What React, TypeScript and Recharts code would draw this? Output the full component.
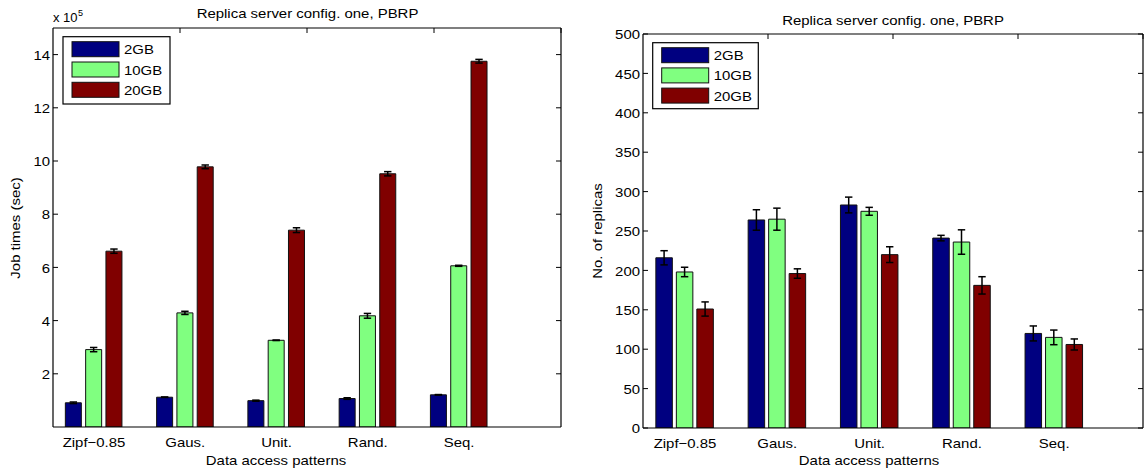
import React from 'react';
import { BarChart, Bar, XAxis, YAxis, ErrorBar } from 'recharts';

// Data access patterns on the x axis
const categories = ['Zipf\u22120.85', 'Gaus.', 'Unit.', 'Rand.', 'Seq.'];
const categoryPositions = [1, 2, 3, 4, 5];

// Storage sizes of the replica servers
const seriesNames = ['2GB', '10GB', '20GB'];
const seriesColors = ['#000080', '#80FF80', '#800000'];

// Job times in units of 10^5 seconds
const jobTime2GB = [0.91, 1.12, 0.99, 1.07, 1.21];
const jobTime10GB = [2.91, 4.29, 3.26, 4.18, 6.06];
const jobTime20GB = [6.61, 9.78, 7.4, 9.52, 13.75];
const jobTime2GBErr = [0.03, 0.01, 0.02, 0.03, 0.01];
const jobTime10GBErr = [0.08, 0.06, 0.01, 0.09, 0.02];
const jobTime20GBErr = [0.08, 0.07, 0.09, 0.08, 0.07];
const jobTimeTicks = [2, 4, 6, 8, 10, 12, 14];

// Number of replicas created
const replicas2GB = [216, 264, 283, 241, 120];
const replicas10GB = [198, 265, 275, 236, 115];
const replicas20GB = [151, 196, 220, 181, 106];
const replicas2GBErr = [9, 13, 10, 3.5, 9.5];
const replicas10GBErr = [6, 14, 5, 15.5, 9.3];
const replicas20GBErr = [9, 6, 10, 11, 7];
const replicaTicks = [0, 50, 100, 150, 200, 250, 300, 350, 400, 450, 500];

const FONT = '"Liberation Sans", Arial, Helvetica, sans-serif';
const STRETCH = 1.15;
const TICK_LEN = 5;

function buildRows(values: number[][], errors: number[][]) {
  return categories.map((name, i) => ({
    pos: categoryPositions[i],
    name,
    v0: values[0][i],
    v1: values[1][i],
    v2: values[2][i],
    e0: errors[0][i],
    e1: errors[1][i],
    e2: errors[2][i],
  }));
}

const jobTimeRows = buildRows(
  [jobTime2GB, jobTime10GB, jobTime20GB],
  [jobTime2GBErr, jobTime10GBErr, jobTime20GBErr]
);
const replicaRows = buildRows(
  [replicas2GB, replicas10GB, replicas20GB],
  [replicas2GBErr, replicas10GBErr, replicas20GBErr]
);

function StretchText(props: {
  x: number;
  y: number;
  anchor: 'start' | 'middle' | 'end';
  size?: number;
  rotate?: number;
  children: React.ReactNode;
}) {
  const { x, y, anchor, size = 13, rotate = 0, children } = props;
  return (
    <text
      transform={`translate(${x},${y}) rotate(${rotate}) scale(${STRETCH},1)`}
      textAnchor={anchor}
      fontSize={size}
      fontFamily={FONT}
      fill="#000"
    >
      {children}
    </text>
  );
}

const LeftTick = (props: any) => {
  const { x, y, payload } = props;
  return (
    <g>
      <line x1={x} x2={x + TICK_LEN} y1={y} y2={y} stroke="#000" strokeWidth={1} />
      <StretchText x={x - 3} y={y + 5.2} anchor="end">
        {String(payload.value)}
      </StretchText>
    </g>
  );
};

const RightTick = (props: any) => {
  const { x, y } = props;
  return <line x1={x - TICK_LEN} x2={x} y1={y} y2={y} stroke="#000" strokeWidth={1} />;
};

const TopTick = (props: any) => {
  const { x, y } = props;
  return <line x1={x} x2={x} y1={y} y2={y + TICK_LEN} stroke="#000" strokeWidth={1} />;
};

const BottomTick = (props: any) => {
  const { x, y, payload } = props;
  return (
    <StretchText x={x} y={y + 19.6} anchor="middle">
      {categories[payload.value - 1]}
    </StretchText>
  );
};

const axisLine = { stroke: '#000', strokeWidth: 1.2 };

function Panel(props: {
  width: number;
  height: number;
  margin: { top: number; right: number; bottom: number; left: number };
  rows: any[];
  xDomain: [number, number];
  yDomain: [number, number];
  yTicks: number[];
  barSize: number;
  barGap: number;
}) {
  const { width, height, margin, rows, xDomain, yDomain, yTicks, barSize, barGap } = props;
  return (
    <BarChart
      width={width}
      height={height}
      data={rows}
      margin={margin}
      barSize={barSize}
      barGap={barGap}
    >
      <XAxis
        xAxisId="b"
        dataKey="pos"
        type="number"
        domain={xDomain}
        ticks={categoryPositions}
        allowDataOverflow
        interval={0}
        height={1}
        tickSize={0}
        tickMargin={0}
        tickLine={false}
        axisLine={axisLine}
        tick={<BottomTick />}
      />
      <XAxis
        xAxisId="t"
        orientation="top"
        type="number"
        domain={[0.5, 5.5]}
        ticks={categoryPositions}
        allowDataOverflow
        interval={0}
        height={1}
        tickSize={0}
        tickMargin={0}
        tickLine={false}
        axisLine={axisLine}
        tick={<TopTick />}
      />
      <YAxis
        yAxisId="l"
        type="number"
        domain={yDomain}
        ticks={yTicks}
        allowDataOverflow
        interval={0}
        width={1}
        tickSize={0}
        tickMargin={0}
        tickLine={false}
        axisLine={axisLine}
        tick={<LeftTick />}
      />
      <YAxis
        yAxisId="r"
        orientation="right"
        type="number"
        domain={yDomain}
        ticks={yTicks}
        allowDataOverflow
        interval={0}
        width={1}
        tickSize={0}
        tickMargin={0}
        tickLine={false}
        axisLine={axisLine}
        tick={<RightTick />}
      />
      {seriesNames.map((s, k) => (
        <Bar
          key={s}
          name={s}
          xAxisId="b"
          yAxisId="l"
          dataKey={`v${k}`}
          fill={seriesColors[k]}
          stroke="#111"
          strokeWidth={1}
          isAnimationActive={false}
        >
          <ErrorBar
            dataKey={`e${k}`}
            direction="y"
            width={3.7}
            stroke="#000"
            strokeWidth={1.5}
            isAnimationActive={false}
          />
        </Bar>
      ))}
    </BarChart>
  );
}

function LegendBox(props: { x: number; y: number; w: number; h: number; rowTop: number; rowGap: number }) {
  const { x, y, w, h, rowTop, rowGap } = props;
  return (
    <g>
      <rect x={x} y={y} width={w} height={h} fill="#fff" stroke="#000" strokeWidth={1.2} />
      {seriesNames.map((s, k) => {
        const top = y + rowTop + k * rowGap;
        return (
          <g key={s}>
            <rect x={x + 9} y={top} width={47} height={15} fill={seriesColors[k]} stroke="#111" strokeWidth={1} />
            <StretchText x={x + 61} y={top + 12.5} anchor="start">
              {s}
            </StretchText>
          </g>
        );
      })}
    </g>
  );
}

export default function App() {
  return (
    <div
      style={{
        position: 'absolute',
        left: 0,
        top: 0,
        width: 1146,
        height: 472,
        background: '#fff',
        fontFamily: FONT,
      }}
    >
      <div style={{ position: 'absolute', left: 0, top: 0 }}>
        <Panel
          width={580}
          height={472}
          margin={{ top: 27, right: 18, bottom: 44, left: 52 }}
          rows={jobTimeRows}
          xDomain={[0.551, 6.117]}
          yDomain={[0, 15]}
          yTicks={jobTimeTicks}
          barSize={16}
          barGap={4.3}
        />
      </div>
      <div style={{ position: 'absolute', left: 580, top: 0 }}>
        <Panel
          width={566}
          height={472}
          margin={{ top: 33, right: 2, bottom: 43, left: 62 }}
          rows={replicaRows}
          xDomain={[0.545, 5.962]}
          yDomain={[0, 500]}
          yTicks={replicaTicks}
          barSize={16.5}
          barGap={4}
        />
      </div>
      <svg
        width={1146}
        height={472}
        style={{ position: 'absolute', left: 0, top: 0, pointerEvents: 'none' }}
      >
        {/* Left panel annotations */}
        <StretchText x={307.5} y={17.8} anchor="middle">
          Replica server config. one, PBRP
        </StretchText>
        <text x={53} y={22} fontSize={13} fontFamily={FONT} fill="#000">
          x 10
        </text>
        <text x={78} y={16} fontSize={9} fontFamily={FONT} fill="#000">
          5
        </text>
        <StretchText x={20} y={228} anchor="middle" rotate={-90}>
          Job times (sec)
        </StretchText>
        <StretchText x={276} y={464.5} anchor="middle">
          Data access patterns
        </StretchText>
        <LegendBox x={63} y={36.7} w={107} h={67.3} rowTop={5} rowGap={20.3} />

        {/* Right panel annotations */}
        <StretchText x={893} y={24.5} anchor="middle">
          Replica server config. one, PBRP
        </StretchText>
        <StretchText x={601.5} y={231} anchor="middle" rotate={-90}>
          No. of replicas
        </StretchText>
        <StretchText x={869} y={464.5} anchor="middle">
          Data access patterns
        </StretchText>
        <LegendBox x={652.7} y={42.7} w={105.6} h={66} rowTop={5} rowGap={20.2} />
      </svg>
    </div>
  );
}
